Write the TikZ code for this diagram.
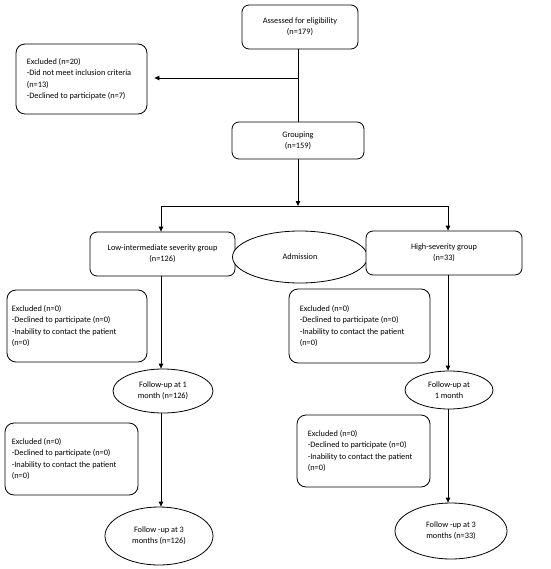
\documentclass[tikz,border=0pt]{standalone}
\usepackage{fontspec}
\setmainfont{Carlito}
\usetikzlibrary{shapes.geometric,arrows.meta}
\begin{document}
\begin{tikzpicture}[x=1pt,y=-1pt,
  every node/.style={font=\fontsize{8.3}{11.3}\selectfont},
  cbox/.style={draw,line width=0.8pt,rounded corners=7pt,fill=white,align=center,inner sep=0pt},
  exbox/.style={draw,line width=0.8pt,rounded corners=9pt,fill=white,inner sep=0pt},
  extext/.style={align=left,anchor=west,inner sep=0pt},
  oval/.style={draw,line width=0.8pt,ellipse,fill=white,align=center,inner sep=0pt},
  conn/.style={line width=0.8pt},
  arr/.style={line width=0.8pt,-{Triangle[length=5pt,width=4.5pt]}}
]
\useasboundingbox (0,0) rectangle (550,569);
% boxes
\node[cbox,minimum width=116pt,minimum height=44pt] (a) at (300,27) {Assessed for eligibility\\(n=179)};
\node[exbox,minimum width=131pt,minimum height=70pt] (e1) at (81.5,79) {};
\node[extext] (e1t) at ([xshift=11pt]e1.west) {Excluded (n=20)\\-Did not meet inclusion criteria\\(n=13)\\-Declined to participate (n=7)};
\node[cbox,minimum width=132pt,minimum height=37pt] (g) at (298,140.5) {Grouping\\(n=159)};
\node[cbox,minimum width=145pt,minimum height=44pt] (low) at (162.5,254) {Low-intermediate severity group\\(n=126)};
\node[oval,minimum width=135pt,minimum height=52pt] (adm) at (300,257) {Admission};
\node[cbox,minimum width=156pt,minimum height=44pt] (high) at (444,253) {High-severity group\\(n=33)};
\node[exbox,minimum width=140pt,minimum height=72pt] (e2) at (77,326) {};
\node[extext] (e2t) at ([xshift=5pt]e2.west) {Excluded (n=0)\\-Declined to participate (n=0)\\-Inability to contact the patient\\(n=0)};
\node[exbox,minimum width=141pt,minimum height=74pt] (e3) at (359.5,326) {};
\node[extext] (e3t) at ([xshift=11pt]e3.west) {Excluded (n=0)\\-Declined to participate (n=0)\\-Inability to contact the patient\\(n=0)};
\node[oval,minimum width=100pt,minimum height=44pt] (f1) at (163,391) {Follow-up at 1\\month (n=126)};
\node[oval,minimum width=88pt,minimum height=38pt] (f1r) at (449,390) {Follow-up at\\1 month};
\node[exbox,minimum width=133pt,minimum height=72pt] (e4) at (71.5,459) {};
\node[extext] (e4t) at ([xshift=7pt]e4.west) {Excluded (n=0)\\-Declined to participate (n=0)\\-Inability to contact the patient\\(n=0)};
\node[exbox,minimum width=133pt,minimum height=72pt] (e5) at (363.5,451) {};
\node[extext] (e5t) at ([xshift=11pt]e5.west) {Excluded (n=0)\\-Declined to participate (n=0)\\-Inability to contact the patient\\(n=0)};
\node[oval,minimum width=108pt,minimum height=58pt] (f3) at (159,536) {Follow -up at 3\\months (n=126)};
\node[oval,minimum width=112pt,minimum height=56pt] (f3r) at (451,531) {Follow -up at 3\\months (n=33)};
% connectors
\coordinate (j1) at (298,78);
\coordinate (br) at (298,206);
\coordinate (bl) at (161,206);
\coordinate (brr) at (448,206);
\draw[conn] (a.south -| j1) -- (g.north -| j1);
\draw[arr] (j1) -- ([xshift=7pt]e1.east |- j1);
\draw[arr] (g.south -| br) -- (br);
\draw[conn] (bl) -- (brr);
\draw[arr] (bl) -- (bl |- low.north);
\draw[arr] (brr) -- (brr |- high.north);
\draw[arr] (bl |- low.south) -- (bl |- f1.north);
\draw[arr] (bl |- f1.south) -- (bl |- f3.north);
\draw[arr] (brr |- high.south) -- (brr |- f1r.north);
\draw[arr] (brr |- f1r.south) -- (brr |- f3r.north);
\end{tikzpicture}
\end{document}
